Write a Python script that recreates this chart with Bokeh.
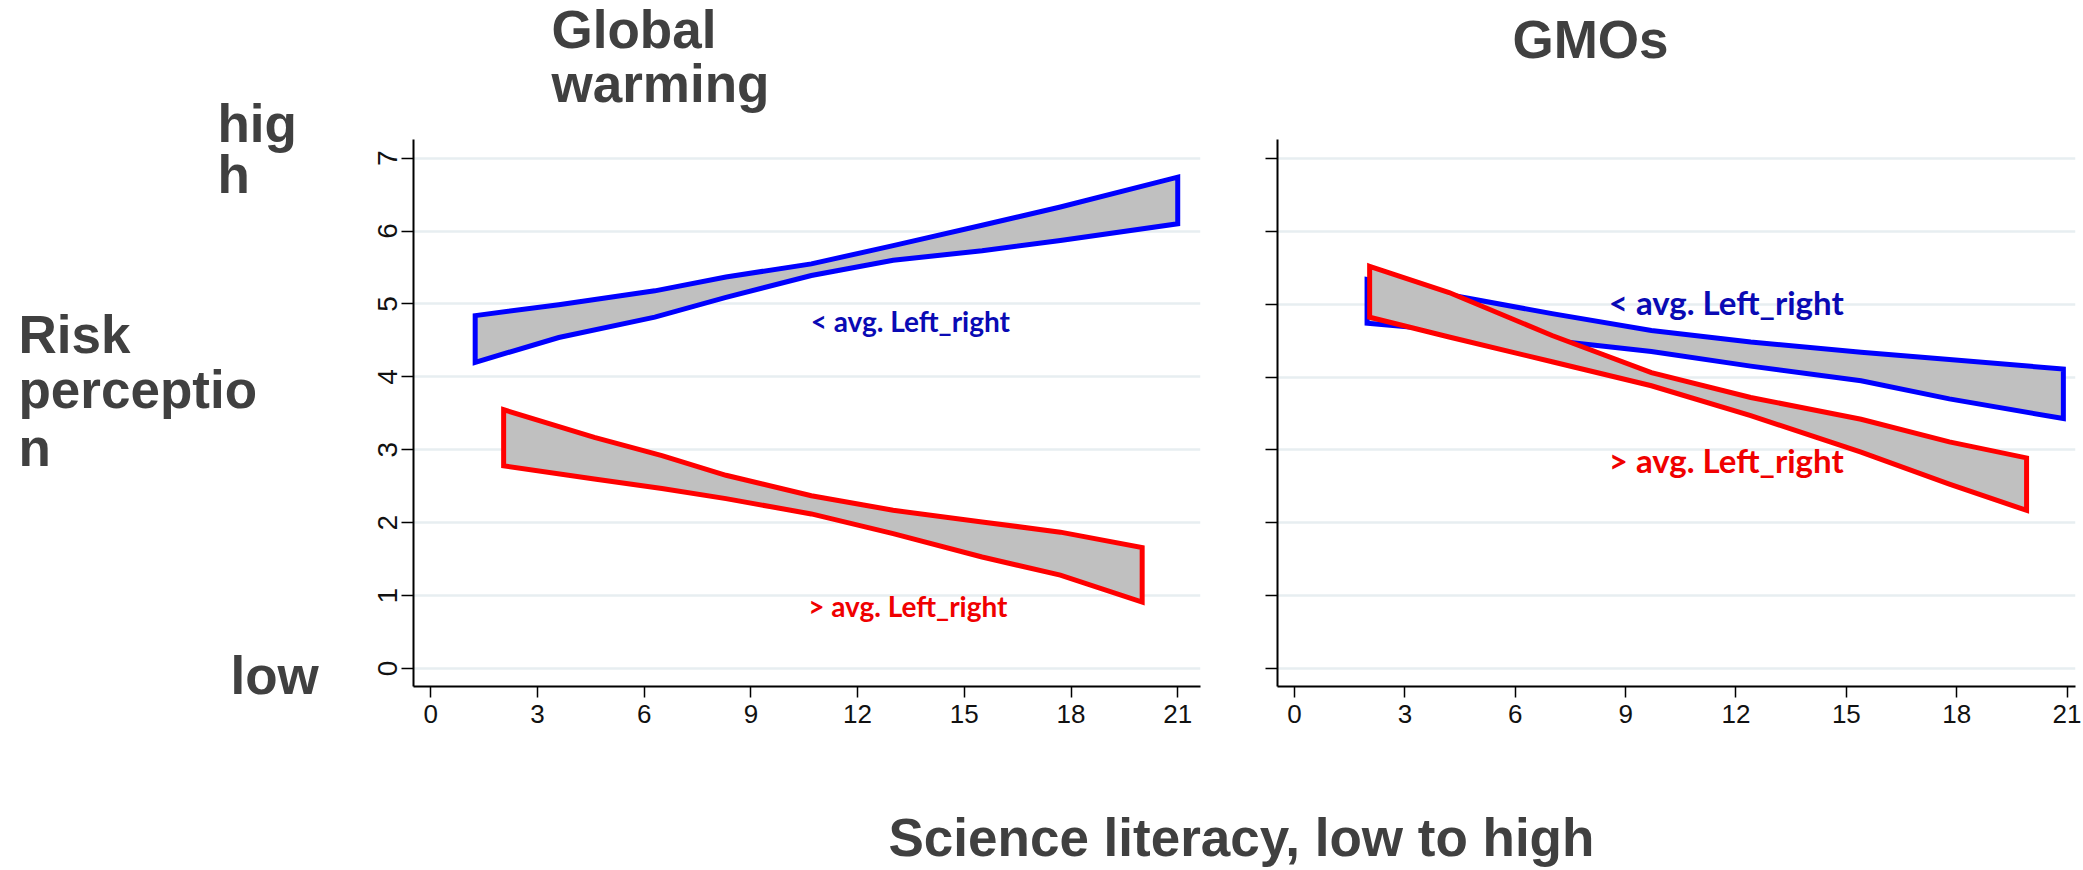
from bokeh.plotting import figure
from bokeh.models import Range1d, Label, FixedTicker
from bokeh.layouts import column, row
from bokeh.embed import file_html
from bokeh.resources import INLINE

# ---------------- data ----------------
x_ticks = [0, 3, 6, 9, 12, 15, 18, 21]
y_ticks = [0, 1, 2, 3, 4, 5, 6, 7]

panel_titles = ["Global warming", "GMOs"]
group_labels = ["< avg. Left_right", "> avg. Left_right"]

# Global warming, below-average Left_right (blue band: upper / lower bound)
gw_blue_x = [1.25, 3.6, 6.3, 8.3, 10.7, 13.0, 15.5, 17.7, 21.0]
gw_blue_hi = [4.84, 4.99, 5.18, 5.37, 5.55, 5.80, 6.08, 6.33, 6.74]
gw_blue_lo = [4.20, 4.54, 4.82, 5.09, 5.39, 5.60, 5.73, 5.87, 6.10]
# Global warming, above-average Left_right (red band)
gw_red_x = [2.05, 4.6, 6.5, 8.3, 10.7, 13.0, 15.5, 17.7, 20.0]
gw_red_hi = [3.55, 3.17, 2.92, 2.65, 2.37, 2.17, 2.01, 1.87, 1.66]
gw_red_lo = [2.78, 2.60, 2.47, 2.33, 2.12, 1.85, 1.53, 1.28, 0.91]
# GMOs, below-average Left_right (blue band)
gmo_blue_x = [1.97, 4.2, 7.0, 9.7, 12.4, 15.4, 17.8, 20.9]
gmo_blue_hi = [5.34, 5.13, 4.87, 4.64, 4.48, 4.34, 4.24, 4.11]
gmo_blue_lo = [4.74, 4.64, 4.50, 4.35, 4.15, 3.95, 3.70, 3.43]
# GMOs, above-average Left_right (red band)
gmo_red_x = [2.04, 4.2, 7.0, 9.7, 12.4, 15.4, 17.8, 19.9]
gmo_red_hi = [5.52, 5.16, 4.57, 4.06, 3.72, 3.42, 3.11, 2.89]
gmo_red_lo = [4.82, 4.55, 4.21, 3.88, 3.47, 2.97, 2.53, 2.17]

# ---------------- layout (page pixels, page origin = top-left) ----------------
TOTAL_H = 868
SIDE_W = 360            # strip on the left with the y-axis words
TOP_H = 125             # strip with the panel titles
MID_H = 613             # row with the two panels
BOT_H = TOTAL_H - TOP_H - MID_H   # strip with the x-axis title
LW, RW = 880, 843       # widths of the two panel figures
L_FRAME = dict(fl=413, fr=1200, ft=139, fb=686, xr=(-0.484, 21.64), yr=(-0.247, 7.256))
R_FRAME = dict(fl=1277, fr=2075, ft=129, fb=686, xr=(-0.465, 21.23), yr=(-0.247, 7.26))

DARK = "#404040"
TITLE_FONT = "Liberation Sans"
TITLE_SIZE = "53px"
BASE_SHIFT = 19         # renderer places the alphabetic baseline ~19px lower at 53px
BAND_FILL = "#c0c0c0"
BLUE, RED = "#0000ff", "#ff0000"
BLUE_TXT, RED_TXT = "#0a0ab4", "#f00000"
GRID = "#e7eef1"


def text_strip(width, height):
    """Blank figure whose frame is the whole canvas; coordinates are pixels from its bottom-left."""
    f = figure(width=width, height=height, output_backend="svg", toolbar_location=None,
               x_range=Range1d(0, width), y_range=Range1d(0, height),
               x_axis_type=None, y_axis_type=None, min_border=0)
    f.outline_line_color = None
    f.grid.visible = False
    f.border_fill_color = "white"
    f.background_fill_color = "white"
    return f


def strip_label(f, left, top, height, text, px, py):
    f.add_layout(Label(x=px - left, y=top + height - (py - BASE_SHIFT), text=text,
                       text_font=TITLE_FONT, text_font_style="bold",
                       text_font_size=TITLE_SIZE, text_color=DARK,
                       text_baseline="alphabetic", text_align="left"))


def make_panel(fr, fig_left, fig_w):
    p = figure(width=fig_w, height=MID_H, output_backend="svg", toolbar_location=None,
               x_range=Range1d(*fr["xr"]), y_range=Range1d(*fr["yr"]),
               min_border_left=fr["fl"] - fig_left,
               min_border_right=fig_left + fig_w - fr["fr"],
               min_border_top=fr["ft"] - TOP_H,
               min_border_bottom=TOP_H + MID_H - fr["fb"])
    p.outline_line_color = None
    p.background_fill_color = "white"
    p.border_fill_color = "white"
    p.xgrid.visible = False
    p.ygrid.ticker = FixedTicker(ticks=y_ticks)
    p.ygrid.grid_line_color = GRID
    p.ygrid.grid_line_width = 2.5
    for ax in (p.xaxis, p.yaxis):
        ax.axis_line_color = "black"
        ax.axis_line_width = 2
        ax.major_tick_line_color = "black"
        ax.major_tick_line_width = 1.5
        ax.major_tick_in = 0
        ax.minor_tick_line_color = None
        ax.major_label_text_font = "Liberation Sans"
        ax.major_label_text_color = "#111111"
    p.xaxis.major_tick_out = 11
    p.yaxis.major_tick_out = 12
    p.xaxis.ticker = FixedTicker(ticks=x_ticks)
    p.yaxis.ticker = FixedTicker(ticks=y_ticks)
    p.xaxis.major_label_text_font_size = "26px"
    p.xaxis.major_label_standoff = 7
    p.yaxis.major_label_text_font_size = "28px"
    p.yaxis.major_label_orientation = "vertical"
    p.yaxis.major_label_standoff = 4
    return p


def band(p, xs, hi, lo, color):
    px = list(xs) + list(xs)[::-1]
    py = list(hi) + list(lo)[::-1]
    p.patch(px, py, fill_color=BAND_FILL, line_color=color, line_width=5, line_join="miter")


def data_label(p, text, x, y, size, color):
    p.add_layout(Label(x=x, y=y, text=text, text_font="Lato", text_font_style="bold",
                       text_font_size=size, text_color=color, text_baseline="alphabetic",
                       text_align="left"))


# ---------------- left strip: y-axis words ----------------
side = text_strip(SIDE_W, TOTAL_H)
for word, px, py in [("hig", 217, 142), ("h", 217, 193), ("Risk", 18, 353),
                     ("perceptio", 18, 408), ("n", 18, 466), ("low", 230, 694)]:
    strip_label(side, 0, 0, TOTAL_H, word, px, py)

# ---------------- top strip: panel titles ----------------
top = text_strip(LW + RW, TOP_H)
gw_words = panel_titles[0].split(" ")
strip_label(top, SIDE_W, 0, TOP_H, gw_words[0], 551, 48)
strip_label(top, SIDE_W, 0, TOP_H, gw_words[1], 551, 102)
strip_label(top, SIDE_W, 0, TOP_H, panel_titles[1], 1512, 58)

# ---------------- left panel: Global warming ----------------
left = make_panel(L_FRAME, SIDE_W, LW)
band(left, gw_blue_x, gw_blue_hi, gw_blue_lo, BLUE)
band(left, gw_red_x, gw_red_hi, gw_red_lo, RED)
data_label(left, group_labels[0], 10.68, 4.76, "28px", BLUE_TXT)
data_label(left, group_labels[1], 10.61, 0.86, "28px", RED_TXT)

# ---------------- right panel: GMOs ----------------
right = make_panel(R_FRAME, SIDE_W + LW, RW)
right.yaxis.major_label_overrides = {t: "" for t in y_ticks}
band(right, gmo_blue_x, gmo_blue_hi, gmo_blue_lo, BLUE)
band(right, gmo_red_x, gmo_red_hi, gmo_red_lo, RED)
data_label(right, group_labels[0], 8.54, 5.03, "33px", BLUE_TXT)
data_label(right, group_labels[1], 8.54, 2.86, "33px", RED_TXT)

# ---------------- bottom strip: shared x-axis title ----------------
bottom = text_strip(LW + RW, BOT_H)
strip_label(bottom, SIDE_W, TOP_H + MID_H, BOT_H, "Science literacy, low to high", 888, 856)

layout = row(side, column(top, row(left, right, spacing=0), bottom, spacing=0), spacing=0)
open("out.html", "w").write(file_html(layout, INLINE))
